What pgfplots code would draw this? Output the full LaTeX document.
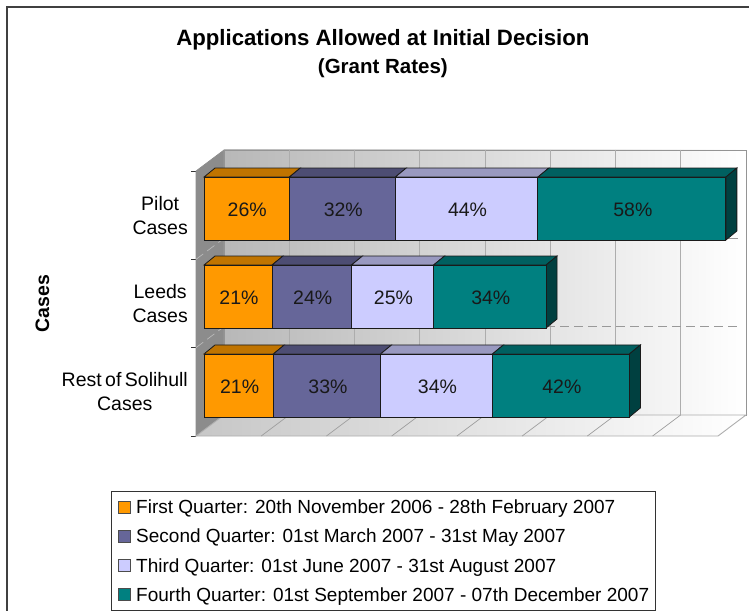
\documentclass[border=0pt]{standalone}
\usepackage{pgfplots}
\pgfplotsset{compat=1.18}
\usepackage{fontspec}
\setmainfont{Liberation Sans}
\definecolor{qa}{HTML}{FF9900}\definecolor{qat}{HTML}{C07400}
\definecolor{qb}{HTML}{666699}\definecolor{qbt}{HTML}{4D4D73}
\definecolor{qc}{HTML}{CCCCFF}\definecolor{qct}{HTML}{9999C0}
\definecolor{qd}{HTML}{008080}\definecolor{qdt}{HTML}{006060}\definecolor{qds}{HTML}{004040}
\definecolor{edge}{HTML}{1A1A1A}
\begin{document}
\begin{tikzpicture}
\useasboundingbox (-196pt,-175pt) rectangle (553pt,436pt);
\begin{axis}[
  at={(0pt,0pt)},anchor=south west,scale only axis,width=522pt,height=265pt,
  xmin=-2.446,xmax=157.19,ymin=0,ymax=3,clip=false,
  axis x line=none,axis y line=left,axis line style={-,color=black,line width=1pt},
  ytick={0,1,2,3},yticklabels={},
  tick style={color=black!80,line width=1pt},
  major tick length=5pt,tick align=outside,
  extra y ticks={0.5,1.5,2.5},
  extra y tick labels={Rest\hspace{-2pt} of\hspace{-2pt} Solihull\\Cases,Leeds\\Cases,Pilot\\Cases},
  extra y tick style={major tick length=0pt,
    yticklabel style={align=center,inner sep=0pt,font=\fontsize{19.5}{24}\selectfont,anchor=east,xshift=-8pt}},
  ylabel={Cases},
  ylabel style={at={(rel axis cs:-0.294,0.5)},anchor=center,rotate=0,font=\fontsize{19.5}{22}\selectfont\bfseries},
  title={Applications Allowed at Initial Decision\\[3pt]{\fontsize{20.5}{22}\selectfont (Grant Rates)}},
  title style={at={(rel axis cs:0.358,1.419)},anchor=center,align=center,font=\fontsize{22.2}{25}\selectfont\bfseries},
  legend style={at={(axis cs:-28.44,-1.985)},anchor=south west,draw=black!80,line width=0.9pt,fill=white,
    font=\fontsize{19}{22}\selectfont,row sep=10pt,inner xsep=4.5pt,inner ysep=6pt,
    /tikz/column 1/.style={column sep=3.5pt},legend cell align=left},
  legend image code/.code={\path (0pt,0pt); \draw[#1,line width=0.7pt,draw=black!70] (2pt,-5.5pt) rectangle (14pt,6.5pt);},
]
% chart frame
\addplot[forget plot,draw=black!75,line width=1.3pt] coordinates {(-60.24,-1.981)(-60.24,4.857)(166.67,4.857)};
% left wall, back wall, floor
\addplot[forget plot,fill=black!45,draw=black!45,line width=0.6pt] coordinates {(-2.446,3)(6.116,3.238)(6.116,0.238)(-2.446,0)} -- cycle;
\addplot[forget plot,left color=black!28,right color=white,draw=black!42,line width=0.9pt] coordinates {(6.116,3.238)(165.75,3.238)(165.75,0.238)(6.116,0.238)} -- cycle;
\addplot[forget plot,left color=black!22,right color=white,draw=black!32,line width=0.9pt] coordinates {(-2.446,0)(6.116,0.238)(165.75,0.238)(157.19,0)} -- cycle;
% grid lines
\pgfplotsinvokeforeach{26.07,46.02,65.97,85.92,105.87,125.82,145.77}{
  \addplot[forget plot,draw=black!32,line width=0.8pt] coordinates {(#1,3.238)(#1,0.238)};}
\addplot[forget plot,draw=black!38,line width=0.7pt] coordinates {(26.07,0.238)(17.5,0)};
\addplot[forget plot,draw=black!38,line width=0.7pt] coordinates {(46.02,0.238)(37.45,0)};
\addplot[forget plot,draw=black!38,line width=0.7pt] coordinates {(65.97,0.238)(57.4,0)};
\addplot[forget plot,draw=black!38,line width=0.7pt] coordinates {(85.92,0.238)(77.35,0)};
\addplot[forget plot,draw=black!38,line width=0.7pt] coordinates {(105.87,0.238)(97.3,0)};
\addplot[forget plot,draw=black!38,line width=0.7pt] coordinates {(125.82,0.238)(117.25,0)};
\addplot[forget plot,draw=black!38,line width=0.7pt] coordinates {(145.77,0.238)(137.2,0)};
\addplot[forget plot,draw=black!40,line width=0.7pt,dash pattern=on 9pt off 5pt] coordinates {(6.116,1.238)(163.3,1.238)};
\addplot[forget plot,draw=black!40,line width=0.7pt] coordinates {(6.116,2.238)(163.3,2.238)};
\addplot[forget plot,draw=black!25,line width=0.6pt,dash pattern=on 9pt off 5pt] coordinates {(-2.446,1)(6.116,1.238)};
\addplot[forget plot,draw=black!25,line width=0.6pt,dash pattern=on 9pt off 5pt] coordinates {(-2.446,2)(6.116,2.238)};
% top faces
\addplot[forget plot,fill=qat,draw=edge,line width=0.8pt] coordinates {(0,2.9315)(26.1,2.9315)(29.46,3.0335)(3.36,3.0335)} -- cycle;
\addplot[forget plot,fill=qbt,draw=edge,line width=0.8pt] coordinates {(26.1,2.9315)(58.5,2.9315)(61.86,3.0335)(29.46,3.0335)} -- cycle;
\addplot[forget plot,fill=qct,draw=edge,line width=0.8pt] coordinates {(58.5,2.9315)(102.1,2.9315)(105.46,3.0335)(61.86,3.0335)} -- cycle;
\addplot[forget plot,fill=qdt,draw=edge,line width=0.8pt] coordinates {(102.1,2.9315)(159.6,2.9315)(162.96,3.0335)(105.46,3.0335)} -- cycle;
\addplot[forget plot,fill=qat,draw=edge,line width=0.8pt] coordinates {(0,1.9355)(20.8,1.9355)(24.16,2.0375)(3.36,2.0375)} -- cycle;
\addplot[forget plot,fill=qbt,draw=edge,line width=0.8pt] coordinates {(20.8,1.9355)(45.1,1.9355)(48.46,2.0375)(24.16,2.0375)} -- cycle;
\addplot[forget plot,fill=qct,draw=edge,line width=0.8pt] coordinates {(45.1,1.9355)(70.2,1.9355)(73.56,2.0375)(48.46,2.0375)} -- cycle;
\addplot[forget plot,fill=qdt,draw=edge,line width=0.8pt] coordinates {(70.2,1.9355)(104.6,1.9355)(107.96,2.0375)(73.56,2.0375)} -- cycle;
\addplot[forget plot,fill=qat,draw=edge,line width=0.8pt] coordinates {(0,0.9285)(21.2,0.9285)(24.56,1.0305)(3.36,1.0305)} -- cycle;
\addplot[forget plot,fill=qbt,draw=edge,line width=0.8pt] coordinates {(21.2,0.9285)(54,0.9285)(57.36,1.0305)(24.56,1.0305)} -- cycle;
\addplot[forget plot,fill=qct,draw=edge,line width=0.8pt] coordinates {(54,0.9285)(88.2,0.9285)(91.56,1.0305)(57.36,1.0305)} -- cycle;
\addplot[forget plot,fill=qdt,draw=edge,line width=0.8pt] coordinates {(88.2,0.9285)(130.1,0.9285)(133.46,1.0305)(91.56,1.0305)} -- cycle;
% side faces
\addplot[forget plot,fill=qds,draw=edge,line width=0.8pt] coordinates {(159.6,2.2185)(159.6,2.9315)(162.96,3.0335)(162.96,2.3205)} -- cycle;
\addplot[forget plot,fill=qds,draw=edge,line width=0.8pt] coordinates {(104.6,1.2225)(104.6,1.9355)(107.96,2.0375)(107.96,1.3245)} -- cycle;
\addplot[forget plot,fill=qds,draw=edge,line width=0.8pt] coordinates {(130.1,0.2155)(130.1,0.9285)(133.46,1.0305)(133.46,0.3175)} -- cycle;
% front faces
\addplot[xbar,stack plots=x,bar shift=0pt,bar width=0.713,fill=qa,draw=edge,line width=0.8pt] coordinates {(21.2,0.572)(20.8,1.579)(26.1,2.575)};
\addplot[xbar,stack plots=x,bar shift=0pt,bar width=0.713,fill=qb,draw=edge,line width=0.8pt] coordinates {(32.8,0.572)(24.3,1.579)(32.4,2.575)};
\addplot[xbar,stack plots=x,bar shift=0pt,bar width=0.713,fill=qc,draw=edge,line width=0.8pt] coordinates {(34.2,0.572)(25.1,1.579)(43.6,2.575)};
\addplot[xbar,stack plots=x,bar shift=0pt,bar width=0.713,fill=qd,draw=edge,line width=0.8pt] coordinates {(41.9,0.572)(34.4,1.579)(57.5,2.575)};
% value labels
\addplot[forget plot,only marks,mark=none,point meta=explicit symbolic,nodes near coords,
  nodes near coords align={center},
  every node near coord/.append style={font=\fontsize{19.5}{22}\selectfont,text=black!90,anchor=center,inner sep=0pt,xshift=1pt,yshift=-1pt}]
  coordinates {(12.9,2.575)[26\%](42.3,2.575)[32\%](80.3,2.575)[44\%](130.85,2.575)[58\%]
  (10.4,1.579)[21\%](32.95,1.579)[24\%](57.65,1.579)[25\%](87.4,1.579)[34\%]
  (10.6,0.572)[21\%](37.6,0.572)[33\%](71.1,0.572)[34\%](109.15,0.572)[42\%]};
\legend{First Quarter: 20th November 2006 - 28th February 2007,
  Second Quarter: 01st March 2007 - 31st May 2007,
  Third Quarter: 01st June 2007 - 31st August 2007,
  Fourth Quarter: 01st September 2007 - 07th December 2007}
\end{axis}
\end{tikzpicture}
\end{document}
